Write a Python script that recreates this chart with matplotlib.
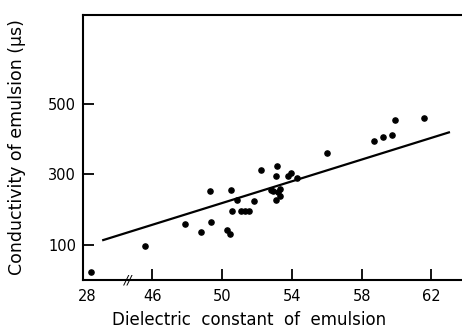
import matplotlib
matplotlib.use("Agg")
import matplotlib.pyplot as plt

# dielectric constant vs conductivity (uS)
dielectric = [28.2, 45.6, 47.9, 48.8, 49.3, 49.4, 50.3, 50.45, 50.5, 50.6,
              50.85, 51.1, 51.3, 51.55, 51.85, 52.25, 52.8, 52.95, 53.1,
              53.1, 53.15, 53.2, 53.3, 53.3, 53.8, 53.95, 54.3, 56.0, 58.7,
              59.2, 59.75, 59.9, 61.6]
conductivity = [23, 95, 160, 136, 254, 164, 141, 131, 257, 197,
                228, 197, 197, 197, 223, 313, 257, 254, 295,
                226, 325, 251, 240, 260, 297, 304, 289, 360, 396,
                408, 412, 455, 460]

fit_x = [43.2, 63.0]
fit_y = [113, 420]

xtick_vals = [28, 46, 50, 54, 58, 62]
ytick_vals = [100, 300, 500]

# axis is broken between 28 and 46
def shift(x):
    return x + 14.3 if x < 40 else x

fig = plt.figure(figsize=(4.62, 3.31), dpi=100)
ax = fig.add_axes([0.18, 0.155, 0.82, 0.80])

ax.scatter([shift(v) for v in dielectric], conductivity, s=14, color="black", zorder=3)
ax.plot([shift(v) for v in fit_x], fit_y, color="black", lw=1.6)

ax.set_xlim(42.05, 63.75)
ax.set_ylim(0, 755)
ax.set_xticks([shift(v) for v in xtick_vals])
ax.set_xticklabels([str(v) for v in xtick_vals])
ax.set_yticks(ytick_vals)
ax.tick_params(direction="in", length=8, width=1.3, labelsize=10.5, pad=5)
ax.tick_params(axis="x", pad=7)
ax.xaxis.get_major_ticks()[0].tick1line.set_visible(False)

for s in ["left", "bottom", "top"]:
    ax.spines[s].set_linewidth(1.5)
ax.spines["right"].set_visible(False)

ax.text(44.6, 0, "//", ha="center", va="center", fontsize=9, style="italic",
        clip_on=False)

ax.set_xlabel("Dielectric  constant  of  emulsion", fontsize=12)
ax.xaxis.set_label_coords(0.437, -0.12)
ax.set_ylabel("Conductivity of emulsion (\u03bcs)", fontsize=12.5)
ax.yaxis.set_label_coords(-0.15, 0.5)

fig.savefig("out.png", dpi=100)
